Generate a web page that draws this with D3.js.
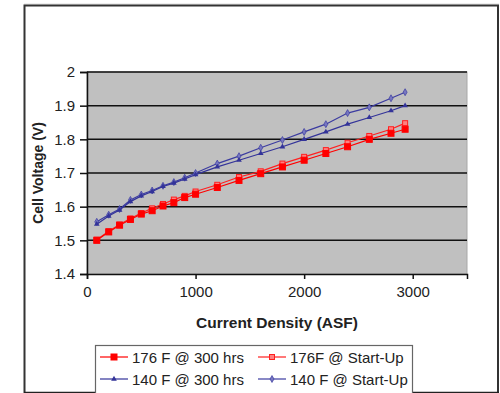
<!DOCTYPE html>
<html>
<head>
<meta charset="utf-8">
<script src="https://cdn.jsdelivr.net/npm/d3@7"></script>
<style>
  body { margin: 0; background: #fff; }
  svg text { font-family: "Liberation Sans", Arial, sans-serif; fill: #222; }
</style>
</head>
<body>
<div id="chart"></div>
<script>
// current density (ASF)
const density = [90, 200, 300, 400, 500, 600, 700, 800, 900, 1000, 1200, 1400, 1600, 1800, 2000, 2200, 2400, 2600, 2800, 2930];
const red300 = [1.500, 1.525, 1.545, 1.562, 1.578, 1.588, 1.602, 1.612, 1.627, 1.637, 1.657, 1.678, 1.698, 1.718, 1.738, 1.758, 1.778, 1.800, 1.818, 1.830];
const redStart = [1.502, 1.527, 1.547, 1.565, 1.581, 1.595, 1.608, 1.621, 1.632, 1.645, 1.665, 1.688, 1.705, 1.728, 1.748, 1.768, 1.790, 1.810, 1.830, 1.848];
const blue300 = [1.548, 1.572, 1.590, 1.615, 1.632, 1.645, 1.660, 1.670, 1.682, 1.695, 1.718, 1.738, 1.758, 1.778, 1.800, 1.822, 1.845, 1.865, 1.885, 1.900];
const blueStart = [1.555, 1.576, 1.593, 1.620, 1.636, 1.648, 1.662, 1.673, 1.686, 1.700, 1.728, 1.750, 1.775, 1.798, 1.822, 1.845, 1.878, 1.895, 1.922, 1.940];
const yTicks = [1.4, 1.5, 1.6, 1.7, 1.8, 1.9, 2];
const xTicks = [0, 1000, 2000, 3000];
const seriesNames = ["176 F @ 300 hrs", "176F @ Start-Up", "140 F @ 300 hrs", "140 F @ Start-Up"];

const width = 500, height = 393;
const margin = {top: 72, right: 33, bottom: 119, left: 87};

const svg = d3.select("#chart").append("svg")
  .attr("width", width)
  .attr("height", height);

// outer frame
svg.append("line").attr("x1", 24).attr("y1", 4).attr("x2", 499).attr("y2", 4)
  .attr("stroke", "#ddd").attr("stroke-width", 1);
svg.append("path")
  .attr("d", "M24.5,393 V5.5 H498 V393")
  .attr("fill", "none").attr("stroke", "#333").attr("stroke-width", 2);
svg.append("line").attr("x1", 24).attr("y1", 392.5).attr("x2", 499).attr("y2", 392.5)
  .attr("stroke", "#222").attr("stroke-width", 1.5);

let xScale = d3.scaleLinear().domain([0, 3500]).range([margin.left, width - margin.right]);
let yScale = d3.scaleLinear().domain([1.4, 2]).range([height - margin.bottom, margin.top]);

// plot background
svg.append("rect")
  .attr("x", xScale(0)).attr("y", yScale(2))
  .attr("width", xScale(3500) - xScale(0))
  .attr("height", yScale(1.4) - yScale(2))
  .attr("fill", "#c0c0c0")
  .attr("stroke", "#a8a8a8");

// gridlines
svg.append("g").selectAll("line").data(yTicks.slice(1)).join("line")
  .attr("x1", xScale(0)).attr("x2", xScale(3500))
  .attr("y1", d => yScale(d)).attr("y2", d => yScale(d))
  .attr("stroke", "#111").attr("stroke-width", 1.5);

// axes
let yAxis = d3.axisLeft(yScale).tickValues(yTicks).tickFormat(d3.format("")).tickSize(7).tickPadding(5);
let xAxis = d3.axisBottom(xScale).tickValues(xTicks).tickFormat(d3.format("")).tickSize(5).tickPadding(7);

svg.append("g").attr("id", "yAxis")
  .attr("transform", "translate(" + xScale(0) + ",0)")
  .call(yAxis);
svg.append("g").attr("id", "xAxis")
  .attr("transform", "translate(0," + yScale(1.4) + ")")
  .call(xAxis);

svg.selectAll("#xAxis path, #yAxis path").attr("stroke", "#111").attr("stroke-width", 1.5);
svg.selectAll("#xAxis line, #yAxis line").attr("stroke", "#111").attr("stroke-width", 1.5);
svg.selectAll("#xAxis text, #yAxis text").style("font-size", "15px").attr("fill", "#222");

// axis titles
svg.append("text")
  .attr("x", 277).attr("y", 328)
  .attr("text-anchor", "middle")
  .style("font-size", "15.5px").style("font-weight", "bold")
  .text("Current Density (ASF)");
svg.append("text")
  .attr("transform", "translate(43,173) rotate(-90)")
  .attr("text-anchor", "middle")
  .style("font-size", "14px").style("font-weight", "bold")
  .text("Cell Voltage (V)");

const series = [
  {name: seriesNames[0], values: red300, color: "#ff0000", marker: "square", mfill: "#ff0000", size: 6},
  {name: seriesNames[1], values: redStart, color: "#ff2020", marker: "square", mfill: "#ff8080", size: 5},
  {name: seriesNames[2], values: blue300, color: "#333399", marker: "tri", mfill: "#333399", size: 4},
  {name: seriesNames[3], values: blueStart, color: "#3b3ba0", marker: "diamond", mfill: "#7777c0", size: 4}
];

let line = d3.line().x(d => xScale(d[0])).y(d => yScale(d[1]));

function drawMarker(g, s, x, y) {
  if (s.marker === "square") {
    g.append("rect")
      .attr("x", x - s.size / 2).attr("y", y - s.size / 2)
      .attr("width", s.size).attr("height", s.size)
      .attr("fill", s.mfill).attr("stroke", s.color).attr("stroke-width", 1);
  } else if (s.marker === "tri") {
    g.append("path")
      .attr("d", d3.symbol(d3.symbolTriangle, 14)())
      .attr("transform", "translate(" + x + "," + y + ")")
      .attr("fill", s.mfill);
  } else {
    g.append("path")
      .attr("d", d3.symbol(d3.symbolDiamond, 14)())
      .attr("transform", "translate(" + x + "," + y + ")")
      .attr("fill", s.mfill).attr("stroke", s.color).attr("stroke-width", 0.7);
  }
}

// draw in reverse so 300 hrs series sit on top
series.slice().reverse().forEach(function(s) {
  let pts = density.map((d, i) => [d, s.values[i]]);
  let g = svg.append("g");
  g.append("path").datum(pts)
    .attr("d", line)
    .attr("fill", "none")
    .attr("stroke", s.color)
    .attr("stroke-width", 1.2);
  pts.forEach(p => drawMarker(g, s, xScale(p[0]), yScale(p[1])));
});

// legend
let legend = svg.append("g");
legend.append("rect")
  .attr("x", 95.5).attr("y", 345.5)
  .attr("width", 317).attr("height", 50)
  .attr("fill", "#fff").attr("stroke", "#666").attr("stroke-width", 1.2);

const legendPos = [[100, 357], [258, 357], [100, 379], [258, 379]];
series.forEach(function(s, i) {
  let lx = legendPos[i][0], ly = legendPos[i][1];
  legend.append("line")
    .attr("x1", lx).attr("x2", lx + 28).attr("y1", ly).attr("y2", ly)
    .attr("stroke", s.color).attr("stroke-width", 1.2);
  drawMarker(legend, s, lx + 14, ly);
  legend.append("text")
    .attr("x", lx + 32).attr("y", ly + 5.5)
    .style("font-size", "15px")
    .text(s.name);
});
</script>
</body>
</html>
